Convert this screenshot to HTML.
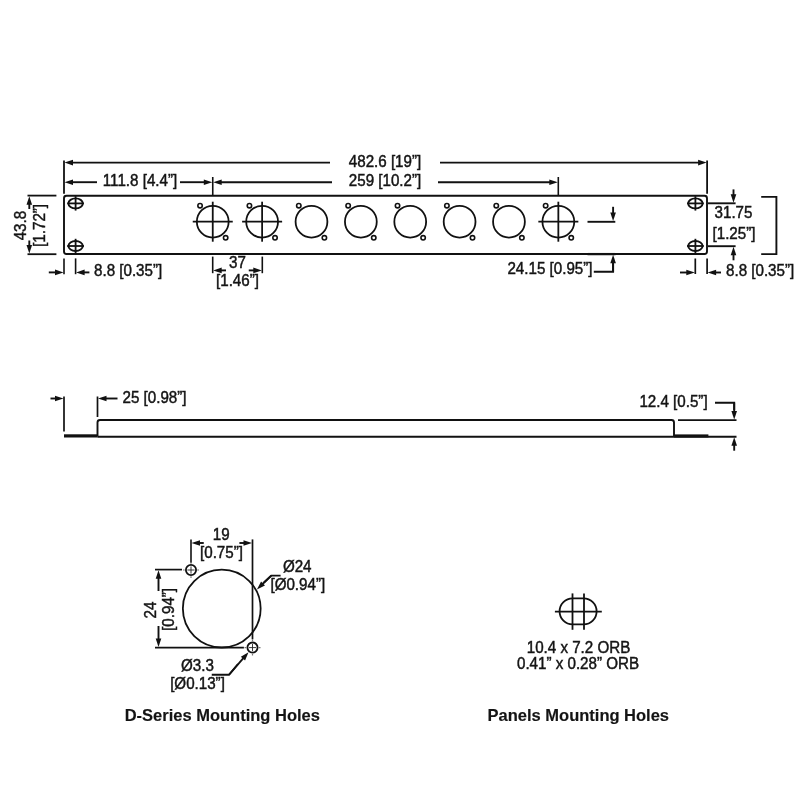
<!DOCTYPE html>
<html><head><meta charset="utf-8"><style>
html,body{margin:0;padding:0;background:#fff;width:800px;height:800px;overflow:hidden}
svg{display:block;will-change:transform}
text{font-family:"Liberation Sans",sans-serif;fill:#141414;stroke:#141414;stroke-width:0.45px}
</style></head><body>
<svg width="800" height="800" viewBox="0 0 800 800">
<rect x="64" y="195.8" width="643" height="58.2" rx="2.5" fill="none" stroke="#111" stroke-width="1.9"/>
<ellipse cx="75.6" cy="203.4" rx="7.2" ry="5.0" fill="none" stroke="#111" stroke-width="1.9"/>
<line x1="67.19999999999999" y1="203.4" x2="84.0" y2="203.4" stroke="#111" stroke-width="1.8"/>
<line x1="75.6" y1="196.20000000000002" x2="75.6" y2="210.6" stroke="#111" stroke-width="1.8"/>
<ellipse cx="75.6" cy="246.0" rx="7.2" ry="5.0" fill="none" stroke="#111" stroke-width="1.9"/>
<line x1="67.19999999999999" y1="246.0" x2="84.0" y2="246.0" stroke="#111" stroke-width="1.8"/>
<line x1="75.6" y1="238.8" x2="75.6" y2="253.2" stroke="#111" stroke-width="1.8"/>
<ellipse cx="695.4" cy="203.4" rx="7.2" ry="5.0" fill="none" stroke="#111" stroke-width="1.9"/>
<line x1="687.0" y1="203.4" x2="703.8" y2="203.4" stroke="#111" stroke-width="1.8"/>
<line x1="695.4" y1="196.20000000000002" x2="695.4" y2="210.6" stroke="#111" stroke-width="1.8"/>
<ellipse cx="695.4" cy="246.0" rx="7.2" ry="5.0" fill="none" stroke="#111" stroke-width="1.9"/>
<line x1="687.0" y1="246.0" x2="703.8" y2="246.0" stroke="#111" stroke-width="1.8"/>
<line x1="695.4" y1="238.8" x2="695.4" y2="253.2" stroke="#111" stroke-width="1.8"/>
<circle cx="212.75" cy="221.7" r="15.9" fill="none" stroke="#111" stroke-width="1.8"/>
<circle cx="200.05" cy="205.7" r="2.2" fill="none" stroke="#111" stroke-width="1.6"/>
<circle cx="225.65" cy="237.79999999999998" r="2.2" fill="none" stroke="#111" stroke-width="1.6"/>
<line x1="192.75" y1="221.7" x2="232.75" y2="221.7" stroke="#111" stroke-width="1.8"/>
<line x1="212.75" y1="201.7" x2="212.75" y2="241.7" stroke="#111" stroke-width="1.8"/>
<circle cx="262.12" cy="221.7" r="15.9" fill="none" stroke="#111" stroke-width="1.8"/>
<circle cx="249.42" cy="205.7" r="2.2" fill="none" stroke="#111" stroke-width="1.6"/>
<circle cx="275.02" cy="237.79999999999998" r="2.2" fill="none" stroke="#111" stroke-width="1.6"/>
<line x1="242.12" y1="221.7" x2="282.12" y2="221.7" stroke="#111" stroke-width="1.8"/>
<line x1="262.12" y1="201.7" x2="262.12" y2="241.7" stroke="#111" stroke-width="1.8"/>
<circle cx="311.49" cy="221.7" r="15.9" fill="none" stroke="#111" stroke-width="1.8"/>
<circle cx="298.79" cy="205.7" r="2.2" fill="none" stroke="#111" stroke-width="1.6"/>
<circle cx="324.39" cy="237.79999999999998" r="2.2" fill="none" stroke="#111" stroke-width="1.6"/>
<circle cx="360.86" cy="221.7" r="15.9" fill="none" stroke="#111" stroke-width="1.8"/>
<circle cx="348.16" cy="205.7" r="2.2" fill="none" stroke="#111" stroke-width="1.6"/>
<circle cx="373.76" cy="237.79999999999998" r="2.2" fill="none" stroke="#111" stroke-width="1.6"/>
<circle cx="410.23" cy="221.7" r="15.9" fill="none" stroke="#111" stroke-width="1.8"/>
<circle cx="397.53" cy="205.7" r="2.2" fill="none" stroke="#111" stroke-width="1.6"/>
<circle cx="423.13" cy="237.79999999999998" r="2.2" fill="none" stroke="#111" stroke-width="1.6"/>
<circle cx="459.60" cy="221.7" r="15.9" fill="none" stroke="#111" stroke-width="1.8"/>
<circle cx="446.90" cy="205.7" r="2.2" fill="none" stroke="#111" stroke-width="1.6"/>
<circle cx="472.50" cy="237.79999999999998" r="2.2" fill="none" stroke="#111" stroke-width="1.6"/>
<circle cx="508.97" cy="221.7" r="15.9" fill="none" stroke="#111" stroke-width="1.8"/>
<circle cx="496.27" cy="205.7" r="2.2" fill="none" stroke="#111" stroke-width="1.6"/>
<circle cx="521.87" cy="237.79999999999998" r="2.2" fill="none" stroke="#111" stroke-width="1.6"/>
<circle cx="558.34" cy="221.7" r="15.9" fill="none" stroke="#111" stroke-width="1.8"/>
<circle cx="545.64" cy="205.7" r="2.2" fill="none" stroke="#111" stroke-width="1.6"/>
<circle cx="571.24" cy="237.79999999999998" r="2.2" fill="none" stroke="#111" stroke-width="1.6"/>
<line x1="538.3399999999999" y1="221.7" x2="578.3399999999999" y2="221.7" stroke="#111" stroke-width="1.8"/>
<line x1="558.3399999999999" y1="201.7" x2="558.3399999999999" y2="241.7" stroke="#111" stroke-width="1.8"/>
<line x1="64" y1="160.5" x2="64" y2="193.8" stroke="#111" stroke-width="1.8"/>
<line x1="707.1" y1="160.5" x2="707.1" y2="193.8" stroke="#111" stroke-width="1.8"/>
<line x1="330" y1="162.6" x2="72.0" y2="162.6" stroke="#111" stroke-width="1.9"/>
<polygon points="64.50,162.60 73.00,159.80 73.00,165.40" fill="#111"/>
<line x1="440" y1="162.6" x2="699.1" y2="162.6" stroke="#111" stroke-width="1.9"/>
<polygon points="706.60,162.60 698.10,165.40 698.10,159.80" fill="#111"/>
<text transform="translate(385 166.8) scale(0.96 1.0)" x="0" y="0" font-size="15.8" text-anchor="middle">482.6 [19”]</text>
<line x1="212.75" y1="177" x2="212.75" y2="195" stroke="#111" stroke-width="1.6"/>
<line x1="558.3" y1="177" x2="558.3" y2="195" stroke="#111" stroke-width="1.6"/>
<line x1="97" y1="182.2" x2="72.0" y2="182.2" stroke="#111" stroke-width="1.9"/>
<polygon points="64.50,182.20 73.00,179.40 73.00,185.00" fill="#111"/>
<text transform="translate(140 186.2) scale(0.96 1.0)" x="0" y="0" font-size="15.8" text-anchor="middle">111.8 [4.4”]</text>
<line x1="180" y1="182.2" x2="204.8" y2="182.2" stroke="#111" stroke-width="1.9"/>
<polygon points="212.30,182.20 203.80,185.00 203.80,179.40" fill="#111"/>
<line x1="332" y1="182.2" x2="220.7" y2="182.2" stroke="#111" stroke-width="1.9"/>
<polygon points="213.20,182.20 221.70,179.40 221.70,185.00" fill="#111"/>
<text transform="translate(385 186.2) scale(0.96 1.0)" x="0" y="0" font-size="15.8" text-anchor="middle">259 [10.2”]</text>
<line x1="438" y1="182.2" x2="550.3" y2="182.2" stroke="#111" stroke-width="1.9"/>
<polygon points="557.80,182.20 549.30,185.00 549.30,179.40" fill="#111"/>
<line x1="27.5" y1="195.6" x2="56.4" y2="195.6" stroke="#111" stroke-width="1.8"/>
<line x1="27.5" y1="254.2" x2="56.4" y2="254.2" stroke="#111" stroke-width="1.8"/>
<line x1="29.3" y1="209" x2="29.3" y2="203.7" stroke="#111" stroke-width="1.9"/>
<polygon points="29.30,196.20 32.10,204.70 26.50,204.70" fill="#111"/>
<line x1="29.3" y1="240.5" x2="29.3" y2="246.1" stroke="#111" stroke-width="1.9"/>
<polygon points="29.30,253.60 26.50,245.10 32.10,245.10" fill="#111"/>
<text transform="translate(25.5 225.6) rotate(-90) scale(0.96 1.0)" x="0" y="0" font-size="15.8" text-anchor="middle">43.8</text>
<text transform="translate(45.3 225.4) rotate(-90) scale(0.96 1.0)" x="0" y="0" font-size="15.8" text-anchor="middle">[1.72”]</text>
<line x1="64" y1="258.4" x2="64" y2="274.2" stroke="#111" stroke-width="1.6"/>
<line x1="75.6" y1="258.4" x2="75.6" y2="274.2" stroke="#111" stroke-width="1.6"/>
<line x1="48.8" y1="272.4" x2="56.0" y2="272.4" stroke="#111" stroke-width="1.9"/>
<polygon points="63.50,272.40 55.00,275.20 55.00,269.60" fill="#111"/>
<line x1="89.4" y1="272.4" x2="83.6" y2="272.4" stroke="#111" stroke-width="1.9"/>
<polygon points="76.10,272.40 84.60,269.60 84.60,275.20" fill="#111"/>
<text transform="translate(94 275.6) scale(0.96 1.0)" x="0" y="0" font-size="15.8" text-anchor="start">8.8 [0.35”]</text>
<line x1="212.7" y1="256.6" x2="212.7" y2="273.2" stroke="#111" stroke-width="1.6"/>
<line x1="262.3" y1="256.6" x2="262.3" y2="273.2" stroke="#111" stroke-width="1.6"/>
<line x1="226" y1="270.4" x2="220.7" y2="270.4" stroke="#111" stroke-width="1.9"/>
<polygon points="213.20,270.40 221.70,267.60 221.70,273.20" fill="#111"/>
<line x1="248.75" y1="270.4" x2="254.3" y2="270.4" stroke="#111" stroke-width="1.9"/>
<polygon points="261.80,270.40 253.30,273.20 253.30,267.60" fill="#111"/>
<text transform="translate(237.5 267.6) scale(0.96 1.0)" x="0" y="0" font-size="15.8" text-anchor="middle">37</text>
<text transform="translate(237.5 285.9) scale(0.96 1.0)" x="0" y="0" font-size="15.8" text-anchor="middle">[1.46”]</text>
<polyline points="587.5,221.8 615.3,221.8" fill="none" stroke="#111" stroke-width="1.9" stroke-linejoin="miter"/>
<line x1="587.5" y1="254.1" x2="615.5" y2="254.1" stroke="#111" stroke-width="2.3"/>
<line x1="613.1" y1="206.8" x2="613.1" y2="213.5" stroke="#111" stroke-width="1.9"/>
<polygon points="613.10,221.00 610.30,212.50 615.90,212.50" fill="#111"/>
<polyline points="593.8,271.8 613.1,271.8 613.1,262" fill="none" stroke="#111" stroke-width="1.9" stroke-linejoin="miter"/>
<line x1="613.1" y1="271.8" x2="613.1" y2="262.3" stroke="#111" stroke-width="1.9"/>
<polygon points="613.10,254.80 615.90,263.30 610.30,263.30" fill="#111"/>
<text transform="translate(592.5 274.2) scale(0.96 1.0)" x="0" y="0" font-size="15.8" text-anchor="end">24.15 [0.95”]</text>
<line x1="708" y1="203.3" x2="735.6" y2="203.3" stroke="#111" stroke-width="1.9"/>
<line x1="708" y1="246.2" x2="735.6" y2="246.2" stroke="#111" stroke-width="1.9"/>
<line x1="733.5" y1="189.4" x2="733.5" y2="195.2" stroke="#111" stroke-width="1.9"/>
<polygon points="733.50,202.70 730.70,194.20 736.30,194.20" fill="#111"/>
<line x1="733.5" y1="260.3" x2="733.5" y2="254.3" stroke="#111" stroke-width="1.9"/>
<polygon points="733.50,246.80 736.30,255.30 730.70,255.30" fill="#111"/>
<text transform="translate(733.5 218.4) scale(0.96 1.0)" x="0" y="0" font-size="15.8" text-anchor="middle">31.75</text>
<text transform="translate(734 239.2) scale(0.96 1.0)" x="0" y="0" font-size="15.8" text-anchor="middle">[1.25”]</text>
<polyline points="761.2,196.9 776.4,196.9 776.4,254.1 761.2,254.1" fill="none" stroke="#111" stroke-width="1.9" stroke-linejoin="miter"/>
<line x1="695.3" y1="258.5" x2="695.3" y2="274" stroke="#111" stroke-width="1.7"/>
<line x1="707.1" y1="258.5" x2="707.1" y2="274" stroke="#111" stroke-width="1.7"/>
<line x1="680" y1="272.5" x2="687.3" y2="272.5" stroke="#111" stroke-width="1.9"/>
<polygon points="694.80,272.50 686.30,275.30 686.30,269.70" fill="#111"/>
<line x1="721" y1="272.5" x2="715.1" y2="272.5" stroke="#111" stroke-width="1.9"/>
<polygon points="707.60,272.50 716.10,269.70 716.10,275.30" fill="#111"/>
<text transform="translate(726 275.7) scale(0.96 1.0)" x="0" y="0" font-size="15.8" text-anchor="start">8.8 [0.35”]</text>
<line x1="64" y1="396.5" x2="64" y2="431.5" stroke="#111" stroke-width="1.7"/>
<line x1="50.5" y1="398.5" x2="56.0" y2="398.5" stroke="#111" stroke-width="1.9"/>
<polygon points="63.50,398.50 55.00,401.30 55.00,395.70" fill="#111"/>
<line x1="97.5" y1="396.5" x2="97.5" y2="417" stroke="#111" stroke-width="1.7"/>
<line x1="117.5" y1="398.5" x2="105.5" y2="398.5" stroke="#111" stroke-width="1.9"/>
<polygon points="98.00,398.50 106.50,395.70 106.50,401.30" fill="#111"/>
<text transform="translate(122.5 402.6) scale(0.96 1.0)" x="0" y="0" font-size="15.8" text-anchor="start">25 [0.98”]</text>
<rect x="64" y="434.3" width="33.5" height="3.2" fill="#111"/>
<path d="M97.5,436.5 V422.5 Q97.5,420 100,420 H671.5 Q674,420 674,422.5 V436.5" fill="none" stroke="#111" stroke-width="1.9"/>
<line x1="97.5" y1="436.8" x2="736.5" y2="436.8" stroke="#111" stroke-width="1.9"/>
<rect x="674" y="434.4" width="34.4" height="3" fill="#111"/>
<line x1="678" y1="420.1" x2="736.5" y2="420.1" stroke="#111" stroke-width="1.9"/>
<polyline points="715,402.7 734.2,402.7 734.2,410" fill="none" stroke="#111" stroke-width="1.9" stroke-linejoin="miter"/>
<line x1="734.2" y1="402.7" x2="734.2" y2="412.1" stroke="#111" stroke-width="1.9"/>
<polygon points="734.20,419.60 731.40,411.10 737.00,411.10" fill="#111"/>
<line x1="734.2" y1="450.7" x2="734.2" y2="444.8" stroke="#111" stroke-width="1.9"/>
<polygon points="734.20,437.30 737.00,445.80 731.40,445.80" fill="#111"/>
<text transform="translate(673.5 407.2) scale(0.96 1.0)" x="0" y="0" font-size="15.8" text-anchor="middle">12.4 [0.5”]</text>
<circle cx="221.75" cy="608.6" r="38.9" fill="none" stroke="#111" stroke-width="1.8"/>
<circle cx="191" cy="570" r="5.1" fill="none" stroke="#111" stroke-width="1.8"/>
<path d="M187.4,570H194.6M191,566.4V573.6" stroke="#222" stroke-width="0.9"/>
<path d="M183,570H184.7M197.3,570H199M191,562V563.7M191,576.3V578" stroke="#777" stroke-width="1.2"/>
<circle cx="252.5" cy="647.6" r="5.1" fill="none" stroke="#111" stroke-width="1.8"/>
<path d="M248.9,647.6H256.1M252.5,644.0V651.2" stroke="#222" stroke-width="0.9"/>
<path d="M244.5,647.6H246.2M258.8,647.6H260.5M252.5,639.6V641.3000000000001M252.5,653.9V655.6" stroke="#777" stroke-width="1.2"/>
<line x1="191" y1="539.4" x2="191" y2="562.5" stroke="#111" stroke-width="1.6"/>
<line x1="252.5" y1="539.4" x2="252.5" y2="639.3" stroke="#111" stroke-width="1.7"/>
<line x1="203.75" y1="543" x2="199.0" y2="543.0" stroke="#111" stroke-width="1.9"/>
<polygon points="191.50,543.00 200.00,540.20 200.00,545.80" fill="#111"/>
<line x1="239.4" y1="543" x2="244.5" y2="543.0" stroke="#111" stroke-width="1.9"/>
<polygon points="252.00,543.00 243.50,545.80 243.50,540.20" fill="#111"/>
<text transform="translate(221.3 539.5) scale(0.96 1.0)" x="0" y="0" font-size="15.8" text-anchor="middle">19</text>
<text transform="translate(221.5 557.6) scale(0.96 1.0)" x="0" y="0" font-size="15.8" text-anchor="middle">[0.75”]</text>
<line x1="155" y1="569.6" x2="182" y2="569.6" stroke="#111" stroke-width="1.7"/>
<line x1="155" y1="647.6" x2="243.9" y2="647.6" stroke="#111" stroke-width="1.8"/>
<line x1="158.5" y1="591" x2="158.5" y2="577.7" stroke="#111" stroke-width="1.9"/>
<polygon points="158.50,570.20 161.30,578.70 155.70,578.70" fill="#111"/>
<line x1="158.5" y1="626" x2="158.5" y2="639.5" stroke="#111" stroke-width="1.9"/>
<polygon points="158.50,647.00 155.70,638.50 161.30,638.50" fill="#111"/>
<text transform="translate(155.6 610) rotate(-90) scale(0.96 1.0)" x="0" y="0" font-size="15.8" text-anchor="middle">24</text>
<text transform="translate(173.6 609.4) rotate(-90) scale(0.96 1.0)" x="0" y="0" font-size="15.8" text-anchor="middle">[0.94”]</text>
<polyline points="280.6,575.6 271.25,575.6 264,582.5" fill="none" stroke="#111" stroke-width="1.9" stroke-linejoin="miter"/>
<line x1="271.25" y1="575.6" x2="262.30588602439286" y2="584.2013082134758" stroke="#111" stroke-width="1.9"/>
<polygon points="256.90,589.40 261.09,581.49 264.97,585.53" fill="#111"/>
<text transform="translate(297.2 572) scale(0.96 1.0)" x="0" y="0" font-size="15.8" text-anchor="middle">Ø24</text>
<text transform="translate(297.8 590.2) scale(0.96 1.0)" x="0" y="0" font-size="15.8" text-anchor="middle">[Ø0.94”]</text>
<polyline points="211.75,674.75 229,674.75 238,664" fill="none" stroke="#111" stroke-width="1.9" stroke-linejoin="miter"/>
<line x1="229" y1="674.75" x2="243.58802096186616" y2="657.9176681209236" stroke="#111" stroke-width="1.9"/>
<polygon points="248.50,652.25 245.05,660.51 240.82,656.84" fill="#111"/>
<text transform="translate(197.5 670.8) scale(0.96 1.0)" x="0" y="0" font-size="15.8" text-anchor="middle">Ø3.3</text>
<text transform="translate(197.5 689.2) scale(0.96 1.0)" x="0" y="0" font-size="15.8" text-anchor="middle">[Ø0.13”]</text>
<text transform="translate(222.3 721) scale(1.0 1.0)" x="0" y="0" font-size="16.5" text-anchor="middle" font-weight="bold" style="stroke-width:0.15px">D-Series Mounting Holes</text>
<path d="M572.6,598.4 H583.6 A13,13 0 0 1 583.6,624.4 H572.6 A13,13 0 0 1 572.6,598.4 Z" fill="none" stroke="#111" stroke-width="1.8"/>
<line x1="572.5" y1="593.4" x2="572.5" y2="629.8" stroke="#111" stroke-width="1.8"/>
<line x1="584" y1="593.4" x2="584" y2="629.8" stroke="#111" stroke-width="1.8"/>
<line x1="554.9" y1="611.6" x2="601.8" y2="611.6" stroke="#111" stroke-width="1.8"/>
<text transform="translate(578.5 652.6) scale(0.96 1.0)" x="0" y="0" font-size="15.8" text-anchor="middle">10.4 x 7.2 ORB</text>
<text transform="translate(578 668.8) scale(0.96 1.0)" x="0" y="0" font-size="15.8" text-anchor="middle">0.41” x 0.28” ORB</text>
<text transform="translate(578.3 720.8) scale(1.0 1.0)" x="0" y="0" font-size="16.5" text-anchor="middle" font-weight="bold" style="stroke-width:0.15px">Panels Mounting Holes</text>
</svg></body></html>
